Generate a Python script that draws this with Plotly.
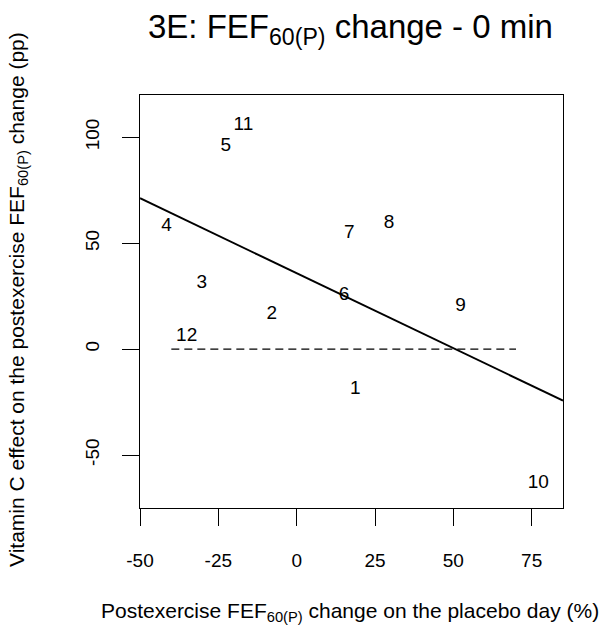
import numpy as np
import plotly.graph_objects as go

# Data: placebo-day change (x), vitamin C effect (y), participant IDs
ids = ["1", "2", "3", "4", "5", "6", "7", "8", "9", "10", "11", "12"]
placebo_change = [18.7, -7.9, -30.3, -41.5, -22.6, 15.1, 16.8, 29.5, 52.3, 77.1, -17.0, -35.1]
vitc_effect = [-18.7, 16.5, 31.1, 58.1, 95.8, 25.6, 54.7, 59.4, 20.4, -63.1, 105.7, 5.9]

x_ticks = [-50, -25, 0, 25, 50, 75]
x_ticklabels = ["-50", "-25", "0", "25", "50", "75"]
y_ticks = [-50, 0, 50, 100]
y_ticklabels = ["-50", "0", "50", "100"]
x_range = [-50, 85]
y_range = [-75, 120]
zero_line_x = [-40, 70]

x = np.array(placebo_change)
y = np.array(vitc_effect)
slope, intercept = np.polyfit(x, y, 1)
line_x = np.array(x_range, dtype=float)
line_y = intercept + slope * line_x

FONT = "Liberation Sans, Arial, Helvetica, sans-serif"

fig = go.Figure()
fig.add_trace(go.Scatter(
    x=zero_line_x, y=[0, 0], mode="lines",
    line=dict(color="black", width=1.1, dash="8px,5px"),
    hoverinfo="skip", showlegend=False))
fig.add_trace(go.Scatter(
    x=line_x, y=line_y, mode="lines",
    line=dict(color="black", width=2),
    hoverinfo="skip", showlegend=False))
fig.add_trace(go.Scatter(
    x=placebo_change, y=vitc_effect, mode="text", text=ids,
    textposition="middle center",
    textfont=dict(family=FONT, size=19, color="black"),
    hoverinfo="skip", showlegend=False))

L, R, T, B = 140, 45, 95, 119
W, H = 608, 627
pw, ph = W - L - R, H - T - B

def px_to_paper(px, py):
    return (px - L) / pw, (H - B - py) / ph

axis_common = dict(
    showgrid=False, zeroline=False, showline=True, linecolor="black",
    linewidth=1.3, mirror=True, ticks="outside", ticklen=17, tickwidth=1.3,
    tickcolor="black", tickfont=dict(family=FONT, size=19, color="black"),
)

fig.update_layout(
    width=W, height=H,
    margin=dict(l=L, r=R, t=T, b=B),
    plot_bgcolor="white", paper_bgcolor="white",
    xaxis=dict(range=x_range, tickvals=x_ticks, ticktext=x_ticklabels,
               ticklabelstandoff=18, **axis_common),
    yaxis=dict(range=y_range, tickvals=y_ticks, ticktext=y_ticklabels,
               tickangle=-90, ticklabelstandoff=15, **axis_common),
)

tx, ty = px_to_paper(350, 29)
fig.add_annotation(x=tx, y=ty, xref="paper", yref="paper", showarrow=False,
                   text="3E: FEF<sub>60(P)</sub> change - 0 min",
                   font=dict(family=FONT, size=33, color="black"),
                   xanchor="center", yanchor="middle")
ax, ay = px_to_paper(350, 612)
fig.add_annotation(x=ax, y=ay, xref="paper", yref="paper", showarrow=False,
                   text="Postexercise FEF<sub>60(P)</sub> change on the placebo day (%)",
                   font=dict(family=FONT, size=21, color="black"),
                   xanchor="center", yanchor="middle")
bx, by = px_to_paper(18, 300)
fig.add_annotation(x=bx, y=by, xref="paper", yref="paper", showarrow=False,
                   text="Vitamin C effect on the postexercise FEF<sub>60(P)</sub> change (pp)",
                   font=dict(family=FONT, size=21, color="black"), textangle=-90,
                   xanchor="center", yanchor="middle")

fig.write_html("out.html", config={"displayModeBar": False},
               post_script="document.body.style.margin='0';")
